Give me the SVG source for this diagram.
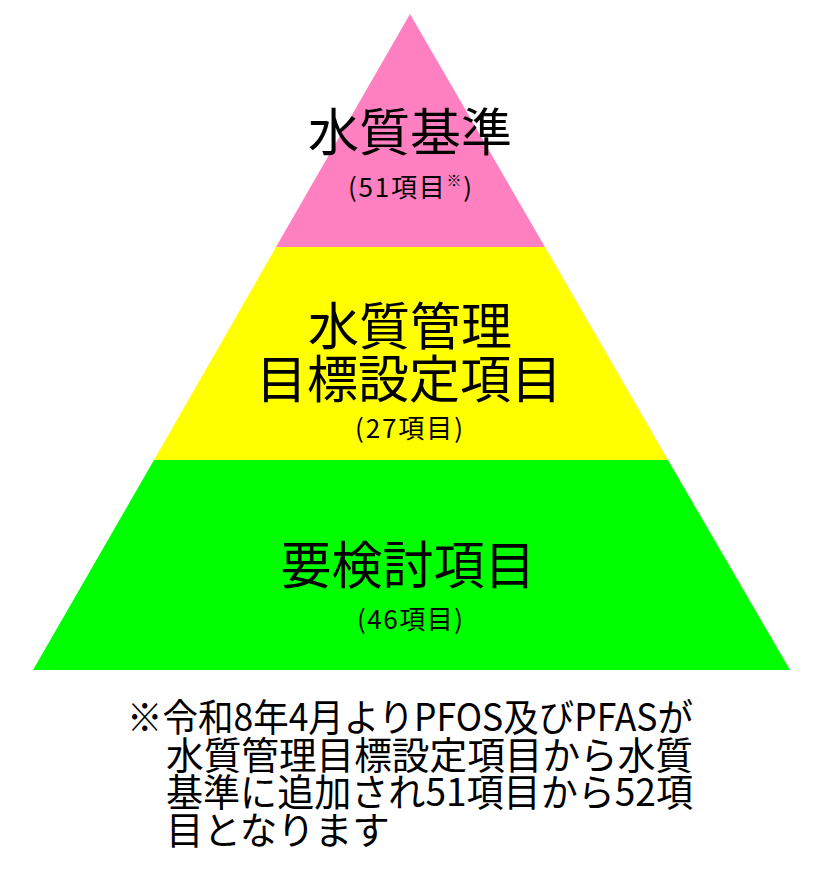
<svg xmlns="http://www.w3.org/2000/svg" width="830" height="870" viewBox="0 0 830 870">
<style>
text{font-family:"Noto Sans CJK JP","Noto Sans CJK SC",sans-serif;fill:#000}
.t{font-size:51px;text-anchor:middle}
.s{font-size:26px;text-anchor:middle}
.n{font-size:37.5px}
</style>
<rect width="830" height="870" fill="#fff"/>
<g id="tier-top">
<polygon points="410,14 276,247 545,247" fill="#FF80C0"/>
<text class="t" x="410" y="151">水質基準</text>
<text class="s" x="410" y="197" textLength="124">(51項目<tspan font-size="15" dy="-11">※</tspan><tspan dy="11">)</tspan></text>
</g>
<g id="tier-mid">
<polygon points="276,247 545,247 668,460 154,460" fill="#FFFF00"/>
<text class="t" x="410" y="345">水質管理</text>
<text class="t" x="409" y="398">目標設定項目</text>
<text class="s" x="409" y="438" textLength="108">(27項目)</text>
</g>
<g id="tier-bottom">
<polygon points="154,460 668,460 790,670 33,670" fill="#00FF00"/>
<text class="t" x="408" y="584">要検討項目</text>
<text class="s" x="410" y="629" textLength="106">(46項目)</text>
</g>
<g id="footnote">
<text class="n"><tspan x="127" y="731" textLength="566" lengthAdjust="spacingAndGlyphs">※令和8年4月よりPFOS及びPFASが</tspan><tspan x="166" y="769" textLength="527" lengthAdjust="spacingAndGlyphs">水質管理目標設定項目から水質</tspan><tspan x="166" y="806" textLength="527" lengthAdjust="spacingAndGlyphs">基準に追加され51項目から52項</tspan><tspan x="166" y="844">目となります</tspan></text>
</g>
</svg>
